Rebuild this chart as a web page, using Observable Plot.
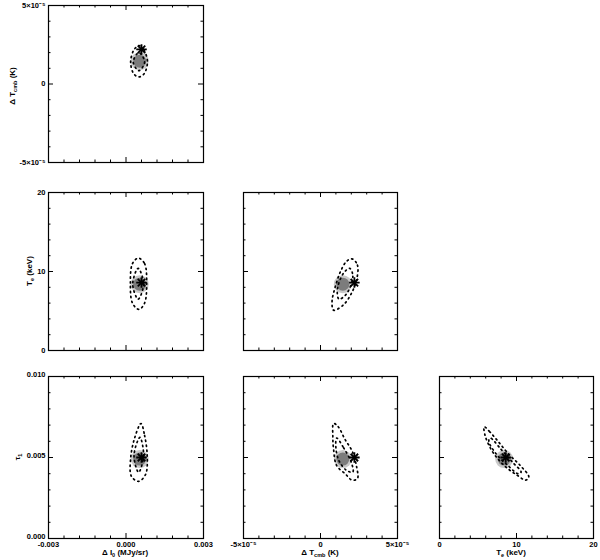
<!DOCTYPE html>
<html><head><meta charset="utf-8">
<script src="https://cdn.jsdelivr.net/npm/d3@7"></script>
<script src="https://cdn.jsdelivr.net/npm/@observablehq/plot@0.6"></script>
<style>
body{margin:0;background:#fff;}
#chart{position:relative;width:600px;height:560px;overflow:hidden;font-family:"Liberation Sans",Arial,sans-serif;}
#chart svg{position:absolute;overflow:visible;background:transparent;}
.lab{position:absolute;font-size:8px;font-weight:bold;white-space:nowrap;line-height:1;color:#000;}
.lab sub{font-size:5.5px;vertical-align:-1.5px;line-height:0;}
</style></head><body><div id="chart"></div><script>
// ---- axis scales: ΔI0, ΔTcmb, Te, tau ----
const dI0Domain = [-0.003, 0.003];
const dI0Major = [-0.003, 0, 0.003];
const dI0Labels = ["-0.003", "0.000", "0.003"];
const dI0Minor = [-0.0024, -0.0018, -0.0012, -0.0006, 0.0006, 0.0012, 0.0018, 0.0024];

const dTDomain = [-5e-5, 5e-5];
const dTMajor = [-5e-5, 0, 5e-5];
const dTLabels = ["-5×10⁻⁵", "0", "5×10⁻⁵"];
const dTMinor = [-4e-5, -3e-5, -2e-5, -1e-5, 1e-5, 2e-5, 3e-5, 4e-5];

const TeDomain = [0, 20];
const TeMajor = [0, 10, 20];
const TeLabels = ["0", "10", "20"];
const TeMinor = [2, 4, 6, 8, 12, 14, 16, 18];

const tauDomain = [0, 0.010];
const tauMajor = [0, 0.005, 0.010];
const tauLabels = ["0.000", "0.005", "0.010"];
const tauMinor = [0.001, 0.002, 0.003, 0.004, 0.006, 0.007, 0.008, 0.009];

// ---- true (input) values [ΔI0, ΔTcmb, Te, tau] and recovered values ----
const trueValue = [0.0006, 2.2e-5, 8.6, 0.005];
const fitValue = [0.00053, 1.45e-5, 8.4, 0.0049];

// ---- dotted confidence contours, per panel (outer and inner) ----
const contA95 = [[0.0005, 2.45e-5], [0.0007, 2.15e-5], [0.00083, 1.4e-5], [0.0007, 0.65e-5], [0.0005, 0.45e-5], [0.0003, 0.65e-5], [0.00018, 1.4e-5], [0.0003, 2.15e-5]];
const contA68 = [[0.0005, 2.0e-5], [0.00072, 1.4e-5], [0.0005, 0.85e-5], [0.00028, 1.4e-5]];

const contB95 = [[0.00048, 11.7], [0.00072, 11.0], [0.0008, 8.5], [0.00072, 6.0], [0.0005, 5.2], [0.00025, 6.0], [0.00017, 8.5], [0.00025, 11.0]];
const contB68 = [[0.00047, 10.4], [0.00068, 8.4], [0.00047, 6.5], [0.00026, 8.4]];

const contC95 = [[0.00058, 0.0071], [0.00072, 0.00636], [0.00082, 0.00513], [0.00076, 0.00396], [0.00049, 0.00353], [0.00021, 0.00384], [0.00018, 0.00495], [0.00033, 0.00618]];
const contC68 = [[0.00054, 0.00624], [0.00068, 0.00513], [0.00049, 0.00408], [0.00031, 0.00513]];

const contD95 = [[2.05e-5, 11.6], [2.4e-5, 10.8], [2.35e-5, 9.0], [2.0e-5, 7.2], [1.5e-5, 5.8], [0.85e-5, 5.1], [0.75e-5, 6.2], [0.95e-5, 8.0], [1.3e-5, 10.0], [1.7e-5, 11.3]];
const contD68 = [[1.9e-5, 10.4], [2.1e-5, 9.4], [1.7e-5, 7.2], [1.2e-5, 6.5], [1.1e-5, 7.8], [1.5e-5, 9.8]];

const contE95 = [[0.85e-5, 0.0071], [1.15e-5, 0.0069], [1.6e-5, 0.0061], [2.05e-5, 0.0054], [2.35e-5, 0.0044], [2.4e-5, 0.0037], [2.05e-5, 0.0036], [1.6e-5, 0.0040], [1.05e-5, 0.0045], [0.85e-5, 0.0055], [0.8e-5, 0.0063]];
const contE68 = [[1.05e-5, 0.0062], [1.5e-5, 0.0056], [2.0e-5, 0.0047], [2.1e-5, 0.0041], [1.7e-5, 0.0042], [1.2e-5, 0.0048], [1.0e-5, 0.0056]];

const contF95 = [[5.8, 0.0069], [6.5, 0.0066], [7.6, 0.0060], [9.0, 0.0052], [10.5, 0.0045], [11.6, 0.0038], [11.2, 0.0036], [10.1, 0.0039], [8.9, 0.0043], [7.8, 0.0048], [6.7, 0.0055], [5.9, 0.0064]];
const contF68 = [[6.6, 0.0062], [8.0, 0.0055], [9.5, 0.0047], [10.6, 0.0041], [10.2, 0.0040], [8.9, 0.0045], [7.4, 0.0052], [6.4, 0.0060]];

// ---- layout ----
const axes = [
  {domain: dI0Domain, major: dI0Major, minor: dI0Minor, labels: dI0Labels},
  {domain: dTDomain, major: dTMajor, minor: dTMinor, labels: dTLabels},
  {domain: TeDomain, major: TeMajor, minor: TeMinor, labels: TeLabels},
  {domain: tauDomain, major: tauMajor, minor: tauMinor, labels: tauLabels}
];
const colLeft = [48, 243, 439], colW = [155, 154, 154];
const rowTop = [5, 192, 376], rowH = [157, 158, 162];
const panels = [
  {col: 0, row: 0, xi: 0, yi: 1, c95: contA95, c68: contA68},
  {col: 0, row: 1, xi: 0, yi: 2, c95: contB95, c68: contB68},
  {col: 0, row: 2, xi: 0, yi: 3, c95: contC95, c68: contC68},
  {col: 1, row: 1, xi: 1, yi: 2, c95: contD95, c68: contD68},
  {col: 1, row: 2, xi: 1, yi: 3, c95: contE95, c68: contE68},
  {col: 2, row: 2, xi: 2, yi: 3, c95: contF95, c68: contF68}
];

const chart = document.getElementById("chart");
const MAJ = 5, MIN = 2.5;
const dotted = {curve: "catmull-rom-closed", stroke: "black", strokeWidth: 1.7, strokeDasharray: "1.3,3.6"};

for (const p of panels) {
  const W = colW[p.col], H = rowH[p.row];
  const ml = p.col === 0 ? 50 : 2, mr = 2, mt = 2, mb = p.row === 2 ? 14 : 2;
  const ax = axes[p.xi], ay = axes[p.yi];
  const tx = (d, a) => a.labels[a.major.indexOf(d)];
  const pt = [[trueValue[p.xi], trueValue[p.yi]]];
  const pf = [[fitValue[p.xi], fitValue[p.yi]]];
  const marks = [
    // tick marks, pointing inward on all four sides
    Plot.tickX(ax.major, {x: d => d, insetTop: H - MAJ, stroke: "black"}),
    Plot.tickX(ax.major, {x: d => d, insetBottom: H - MAJ, stroke: "black"}),
    Plot.tickX(ax.minor, {x: d => d, insetTop: H - MIN, stroke: "black"}),
    Plot.tickX(ax.minor, {x: d => d, insetBottom: H - MIN, stroke: "black"}),
    Plot.tickY(ay.major, {y: d => d, insetRight: W - MAJ, stroke: "black"}),
    Plot.tickY(ay.major, {y: d => d, insetLeft: W - MAJ, stroke: "black"}),
    Plot.tickY(ay.minor, {y: d => d, insetRight: W - MIN, stroke: "black"}),
    Plot.tickY(ay.minor, {y: d => d, insetLeft: W - MIN, stroke: "black"}),
    // recovered-parameter blob
    Plot.dot(pf, {x: d => d[0], y: d => d[1], r: 9, fill: "#c9c9c9"}),
    Plot.dot(pf, {x: d => d[0], y: d => d[1], r: 6.5, fill: "#7c7c7c"}),
    // dotted contours
    Plot.line(p.c95, {x: d => d[0], y: d => d[1], ...dotted}),
    Plot.line(p.c68, {x: d => d[0], y: d => d[1], ...dotted}),
    // true value (asterisk)
    Plot.dot(pt, {x: d => d[0], y: d => d[1], symbol: "plus", r: 3.5, stroke: "black", strokeWidth: 1.8}),
    Plot.dot(pt, {x: d => d[0], y: d => d[1], symbol: "times", r: 3.5, stroke: "black", strokeWidth: 1.8}),
    Plot.frame({stroke: "black", strokeWidth: 1.2})
  ];
  if (p.col === 0) marks.push(Plot.axisY(ay.major, {anchor: "left", tickSize: 0, tickPadding: 3, dy: p.row === 2 ? -1.5 : 0, tickFormat: d => tx(d, ay), label: null, fontSize: 7.5, fontWeight: "bold"}));
  if (p.row === 2) marks.push(Plot.axisX(ax.major, {anchor: "bottom", tickSize: 0, tickPadding: 3.5, tickFormat: d => tx(d, ax), label: null, fontSize: 7.5, fontWeight: "bold"}));
  const svg = Plot.plot({
    width: ml + W + mr, height: mt + H + mb,
    marginLeft: ml, marginRight: mr, marginTop: mt, marginBottom: mb,
    x: {domain: ax.domain, axis: null},
    y: {domain: ay.domain, axis: null},
    style: {fontFamily: "Liberation Sans, Arial, sans-serif", background: "transparent", overflow: "visible"},
    marks
  });
  svg.style.left = (colLeft[p.col] - ml) + "px";
  svg.style.top = (rowTop[p.row] - mt) + "px";
  chart.appendChild(svg);
}

// ---- axis titles (HTML so subscripts stay real text) ----
function label(html, x, y, rot) {
  const d = document.createElement("div");
  d.className = "lab";
  d.innerHTML = html;
  d.style.left = x + "px";
  d.style.top = y + "px";
  d.style.transform = "translate(-50%,-50%)" + (rot ? " rotate(-90deg)" : "");
  chart.appendChild(d);
}
label("Δ T<sub>cmb</sub> (K)", 13, 86, true);
label("T<sub>e</sub> (keV)", 30, 271, true);
label("τ<sub>1</sub>", 18, 457, true);
label("Δ I<sub>0</sub> (MJy/sr)", 125, 553, false);
label("Δ T<sub>cmb</sub> (K)", 320, 553, false);
label("T<sub>e</sub> (keV)", 511, 553, false);
</script></body></html>
